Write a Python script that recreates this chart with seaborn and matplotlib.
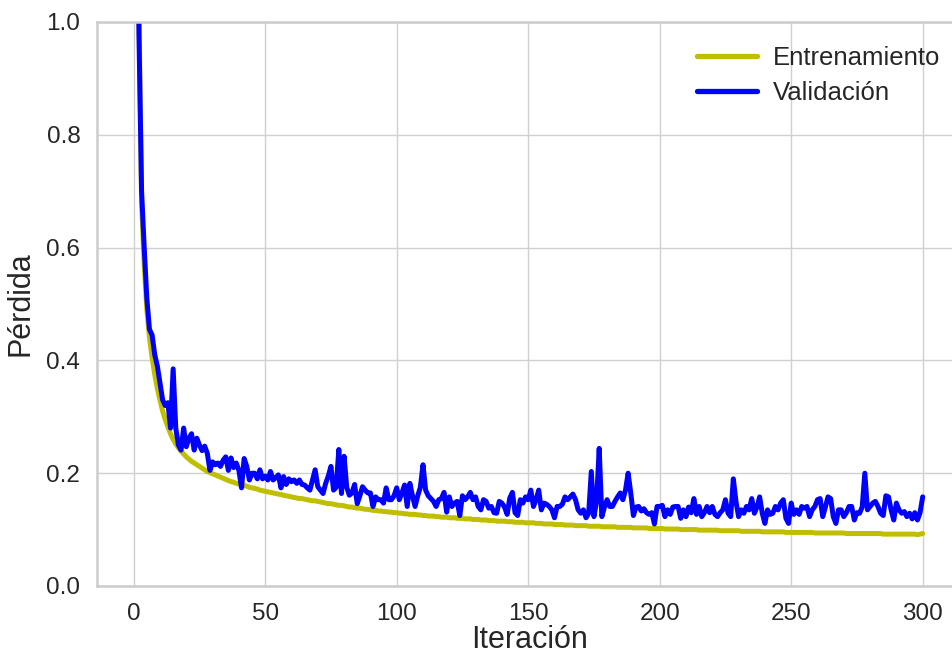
import numpy as np
import pandas as pd
import matplotlib
matplotlib.use("Agg")
import matplotlib.pyplot as plt
import seaborn as sns

iterations = list(range(1, 301))

train_loss = [
    1.60, 1.02, 0.68, 0.57, 0.49, 0.44, 0.405, 0.375, 0.35, 0.33,
    0.31, 0.295, 0.282, 0.27, 0.26, 0.252, 0.245, 0.239, 0.234, 0.229,
    0.225, 0.221, 0.218, 0.215, 0.212, 0.209, 0.206, 0.203, 0.201, 0.199,
    0.197, 0.195, 0.193, 0.191, 0.189, 0.187, 0.185, 0.184, 0.182, 0.181,
    0.179, 0.178, 0.177, 0.175, 0.174, 0.173, 0.172, 0.170, 0.169, 0.168,
    0.167, 0.166, 0.165, 0.164, 0.163, 0.162, 0.161, 0.160, 0.159, 0.158,
    0.157, 0.156, 0.155, 0.155, 0.154, 0.153, 0.152, 0.151, 0.151, 0.150,
    0.149, 0.148, 0.147, 0.146, 0.146, 0.145, 0.144, 0.143, 0.143, 0.142,
    0.141, 0.140, 0.140, 0.139, 0.138, 0.138, 0.137, 0.136, 0.136, 0.135,
    0.134, 0.134, 0.133, 0.133, 0.132, 0.132, 0.131, 0.131, 0.130, 0.130,
    0.129, 0.129, 0.128, 0.128, 0.127, 0.127, 0.127, 0.126, 0.126, 0.125,
    0.125, 0.124, 0.124, 0.124, 0.123, 0.123, 0.122, 0.122, 0.122, 0.121,
    0.121, 0.121, 0.120, 0.120, 0.120, 0.119, 0.119, 0.119, 0.118, 0.118,
    0.118, 0.117, 0.117, 0.117, 0.116, 0.116, 0.116, 0.115, 0.115, 0.115,
    0.115, 0.114, 0.114, 0.114, 0.113, 0.113, 0.113, 0.113, 0.112, 0.112,
    0.112, 0.112, 0.111, 0.111, 0.111, 0.110, 0.110, 0.110, 0.110, 0.109,
    0.109, 0.109, 0.109, 0.108, 0.108, 0.108, 0.108, 0.107, 0.107, 0.107,
    0.107, 0.107, 0.106, 0.106, 0.106, 0.106, 0.106, 0.105, 0.105, 0.105,
    0.105, 0.105, 0.105, 0.104, 0.104, 0.104, 0.104, 0.104, 0.104, 0.103,
    0.103, 0.103, 0.103, 0.103, 0.103, 0.102, 0.102, 0.102, 0.102, 0.102,
    0.102, 0.101, 0.101, 0.101, 0.101, 0.101, 0.101, 0.100, 0.100, 0.100,
    0.100, 0.100, 0.100, 0.100, 0.099, 0.099, 0.099, 0.099, 0.099, 0.099,
    0.099, 0.099, 0.098, 0.098, 0.098, 0.098, 0.098, 0.098, 0.098, 0.098,
    0.097, 0.097, 0.097, 0.097, 0.097, 0.097, 0.097, 0.097, 0.096, 0.096,
    0.096, 0.096, 0.096, 0.096, 0.096, 0.096, 0.096, 0.095, 0.095, 0.095,
    0.095, 0.095, 0.095, 0.095, 0.095, 0.095, 0.095, 0.095, 0.094, 0.094,
    0.094, 0.094, 0.094, 0.094, 0.094, 0.094, 0.094, 0.094, 0.094, 0.094,
    0.093, 0.093, 0.093, 0.093, 0.093, 0.093, 0.093, 0.093, 0.093, 0.093,
    0.093, 0.093, 0.093, 0.093, 0.092, 0.092, 0.092, 0.092, 0.092, 0.092,
    0.092, 0.092, 0.092, 0.092, 0.092, 0.092, 0.092, 0.091, 0.092, 0.093,
]

val_loss = [
    1.60, 0.98, 0.70, 0.60, 0.51, 0.455, 0.445, 0.41, 0.39, 0.36,
    0.33, 0.32, 0.325, 0.28, 0.385, 0.28, 0.25, 0.241, 0.28, 0.247,
    0.262, 0.27, 0.241, 0.262, 0.25, 0.24, 0.248, 0.235, 0.205, 0.22,
    0.215, 0.218, 0.212, 0.223, 0.229, 0.205, 0.227, 0.21, 0.218, 0.205,
    0.174, 0.226, 0.212, 0.188, 0.2, 0.2, 0.19, 0.206, 0.19, 0.195,
    0.188, 0.203, 0.188, 0.192, 0.197, 0.174, 0.194, 0.18, 0.19, 0.185,
    0.188, 0.182, 0.188, 0.18, 0.179, 0.174, 0.17, 0.188, 0.206, 0.176,
    0.17, 0.164, 0.182, 0.195, 0.212, 0.17, 0.175, 0.242, 0.164, 0.23,
    0.175, 0.161, 0.165, 0.18, 0.146, 0.16, 0.176, 0.17, 0.165, 0.165,
    0.141, 0.158, 0.153, 0.153, 0.147, 0.174, 0.153, 0.153, 0.16, 0.174,
    0.153, 0.165, 0.179, 0.141, 0.182, 0.16, 0.141, 0.16, 0.175, 0.215,
    0.17, 0.16, 0.155, 0.15, 0.141, 0.153, 0.155, 0.166, 0.131, 0.158,
    0.141, 0.147, 0.15, 0.125, 0.16, 0.153, 0.158, 0.166, 0.153, 0.158,
    0.141, 0.135, 0.153, 0.15, 0.138, 0.141, 0.13, 0.129, 0.15, 0.147,
    0.14, 0.127, 0.156, 0.166, 0.13, 0.125, 0.153, 0.147, 0.158, 0.153,
    0.17, 0.141, 0.153, 0.17, 0.135, 0.147, 0.145, 0.141, 0.135, 0.121,
    0.141, 0.141, 0.145, 0.158, 0.153, 0.158, 0.163, 0.153, 0.135, 0.129,
    0.135, 0.121, 0.129, 0.203, 0.123, 0.15, 0.244, 0.123, 0.14, 0.153,
    0.141, 0.141, 0.15, 0.158, 0.165, 0.153, 0.17, 0.2, 0.165, 0.125,
    0.14, 0.141, 0.133, 0.137, 0.13, 0.127, 0.13, 0.11, 0.141, 0.141,
    0.143, 0.123, 0.135, 0.127, 0.14, 0.141, 0.141, 0.12, 0.135, 0.123,
    0.14, 0.13, 0.155, 0.127, 0.141, 0.123, 0.13, 0.141, 0.13, 0.141,
    0.127, 0.123, 0.13, 0.135, 0.153, 0.129, 0.123, 0.19, 0.15, 0.123,
    0.135, 0.129, 0.141, 0.135, 0.155, 0.129, 0.14, 0.158, 0.129, 0.111,
    0.135, 0.127, 0.129, 0.141, 0.135, 0.147, 0.153, 0.12, 0.111, 0.147,
    0.127, 0.135, 0.127, 0.141, 0.138, 0.141, 0.123, 0.135, 0.141, 0.153,
    0.155, 0.123, 0.14, 0.158, 0.155, 0.123, 0.111, 0.135, 0.135, 0.123,
    0.13, 0.141, 0.141, 0.117, 0.13, 0.129, 0.14, 0.2, 0.135, 0.141,
    0.147, 0.15, 0.141, 0.129, 0.125, 0.16, 0.158, 0.135, 0.117, 0.147,
    0.135, 0.129, 0.132, 0.123, 0.129, 0.119, 0.13, 0.117, 0.13, 0.158,
]

series_names = ["Entrenamiento", "Validación"]
series_colors = ["#bfbf00", "#0000ff"]

df = pd.DataFrame({
    "Iteración": iterations * 2,
    "Pérdida": train_loss + val_loss,
    "Serie": [series_names[0]] * len(train_loss) + [series_names[1]] * len(val_loss),
})

sns.set_theme(style="whitegrid")
plt.rcParams["font.family"] = ["Liberation Sans", "DejaVu Sans"]
plt.rcParams["axes.edgecolor"] = "#cccccc"
plt.rcParams["grid.color"] = "#d0d0d0"

W, H = 953, 654
fig = plt.figure(figsize=(W / 100, H / 100), dpi=100)
ax = fig.add_axes([97 / W, 68 / H, (962 - 97) / W, 564 / H])

sns.lineplot(data=df, x="Iteración", y="Pérdida", hue="Serie",
             palette=dict(zip(series_names, series_colors)),
             linewidth=3.6, ax=ax, legend=True)

ax.set_ylim(0.0, 1.0)
ax.set_xlim(1 - 0.05 * 299, 300 + 0.05 * 299)
ax.set_xticks([0, 50, 100, 150, 200, 250, 300])
ax.set_yticks([0.0, 0.2, 0.4, 0.6, 0.8, 1.0])
ax.set_yticklabels(["0.0", "0.2", "0.4", "0.6", "0.8", "1.0"])
ax.tick_params(axis="both", labelsize=17.5, colors="#262626", pad=6)
ax.set_xlabel("Iteración", fontsize=22, color="#262626", labelpad=0)
ax.set_ylabel("Pérdida", fontsize=22, color="#262626", labelpad=8)
for s in ax.spines.values():
    s.set_linewidth(1.8)
    s.set_color("#cccccc")

leg = ax.legend(loc="upper right", bbox_to_anchor=(1.002, 0.999), frameon=False,
                fontsize=18.5, handlelength=2.3, handletextpad=0.65,
                labelspacing=0.45)
for line in leg.get_lines():
    line.set_linewidth(3.8)

fig.savefig("out.png", dpi=100)
